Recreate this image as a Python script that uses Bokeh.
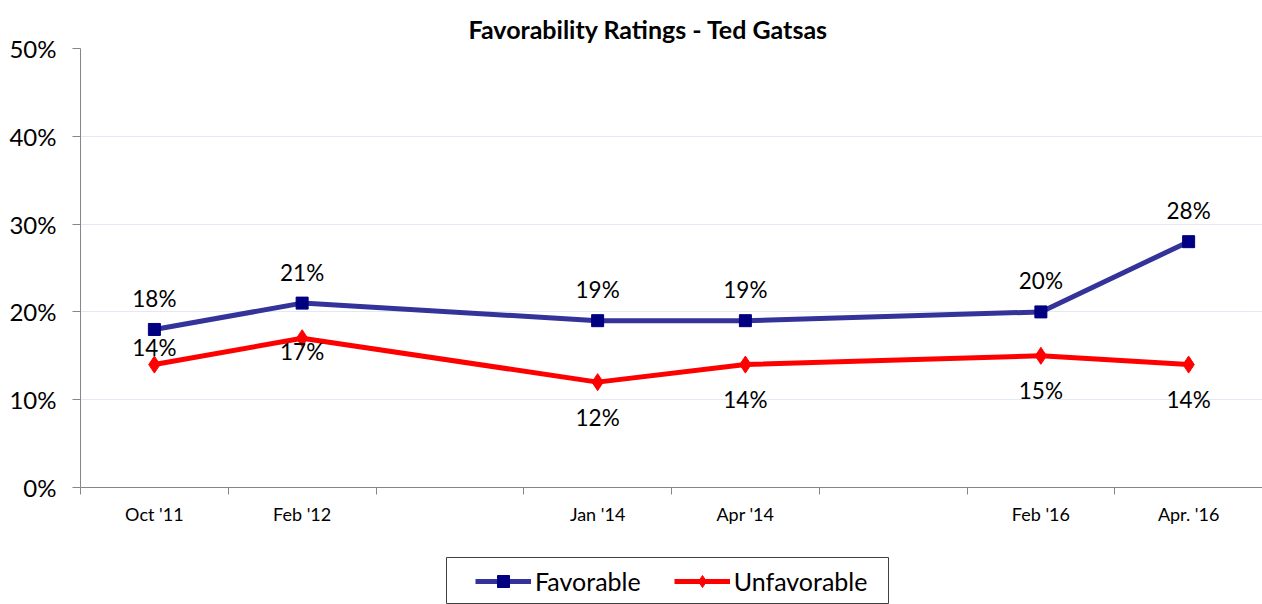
from bokeh.plotting import figure
from bokeh.layouts import column
from bokeh.models import (FixedTicker, Legend, LegendItem, ColumnDataSource,
                          NumeralTickFormatter, Range1d)
from bokeh.core.properties import value
from bokeh.embed import file_html
from bokeh.resources import INLINE

# ---- data ----
categories = ["Oct '11", "Feb '12", "", "Jan '14", "Apr '14", "", "Feb '16", "Apr. '16"]
survey_slots = [0, 1, 3, 4, 6, 7]
favorable = [0.18, 0.21, 0.19, 0.19, 0.20, 0.28]
unfavorable = [0.14, 0.17, 0.12, 0.14, 0.15, 0.14]
y_ticks = [0.0, 0.1, 0.2, 0.3, 0.4, 0.5]

FONT = "Lato"
fav_line = "#333399"
fav_marker = "#000080"
unf_color = "#FF0000"

p = figure(width=1262, height=557, output_backend="svg", toolbar_location=None,
           x_range=Range1d(-0.5, 7.5), y_range=Range1d(0, 0.5),
           min_border_left=80, min_border_right=0, min_border_top=48,
           min_border_bottom=70)
p.frame_align = False
p.outline_line_color = None
p.background_fill_color = "white"
p.border_fill_color = "white"

# title
p.title.text = "Favorability Ratings - Ted Gatsas"
p.title.text_font = FONT
p.title.text_font_style = "bold"
p.title.text_font_size = "25px"
p.title.text_color = "black"
p.title.align = "left"
p.title.offset = 388
p.title.standoff = 10

# x axis: labels at slot centres, tick marks at slot boundaries
centers = list(range(len(categories)))
boundaries = [c - 0.5 for c in centers] + [len(categories) - 0.5]
p.xaxis.ticker = FixedTicker(ticks=centers, minor_ticks=boundaries)
p.xaxis.major_label_overrides = {i: c for i, c in enumerate(categories)}
p.xaxis.major_tick_out = 0
p.xaxis.major_tick_in = 0
p.xaxis.minor_tick_out = 7
p.xaxis.minor_tick_in = 0
p.xaxis.minor_tick_line_color = "#868686"
p.xaxis.axis_line_color = "#868686"
p.xaxis.major_label_text_font = FONT
p.xaxis.major_label_text_font_size = "18px"
p.xaxis.major_label_text_color = "black"
p.xaxis.major_label_standoff = 8
p.xgrid.grid_line_color = None

# y axis
p.yaxis.ticker = FixedTicker(ticks=y_ticks)
p.yaxis.formatter = NumeralTickFormatter(format="0%")
p.yaxis.major_tick_out = 8
p.yaxis.major_tick_in = 0
p.yaxis.minor_tick_line_color = None
p.yaxis.axis_line_color = "#868686"
p.yaxis.major_tick_line_color = "#868686"
p.yaxis.major_label_text_font = FONT
p.yaxis.major_label_text_font_size = "24px"
p.yaxis.major_label_text_color = "black"
p.yaxis.major_label_standoff = 16
p.ygrid.grid_line_color = "#E4E7F4"

src = ColumnDataSource(dict(
    x=survey_slots, fav=favorable, unf=unfavorable,
    fav_lbl=[f"{round(v*100)}%" for v in favorable],
    unf_lbl=[f"{round(v*100)}%" for v in unfavorable],
    unf_dy=[-17, 13, 35, 35, 35, 35],
))


def draw_series(fig):
    a = fig.line("x", "fav", source=src, line_color=fav_line, line_width=5)
    b = fig.scatter("x", "fav", source=src, marker="square", size=12,
                    fill_color=fav_marker, line_color=fav_marker)
    c = fig.line("x", "unf", source=src, line_color=unf_color, line_width=5)
    d = fig.scatter("x", "unf", source=src, marker="diamond", size=17,
                    fill_color=unf_color, line_color=unf_color)
    return a, b, c, d


draw_series(p)

p.text("x", "fav", text="fav_lbl", source=src, y_offset=-31,
       text_align="center", text_baseline="middle",
       text_font=value(FONT), text_font_size="22.5px", text_color="black")
p.text("x", "unf", text="unf_lbl", source=src, y_offset="unf_dy",
       text_align="center", text_baseline="middle",
       text_font=value(FONT), text_font_size="22.5px", text_color="black")

# legend strip below the chart (its frame outline is the legend box)
lg = figure(width=1262, height=47, output_backend="svg", toolbar_location=None,
            x_range=Range1d(-0.5, 7.5), y_range=Range1d(5, 6),
            x_axis_type=None, y_axis_type=None,
            min_border_left=446, min_border_right=374, min_border_top=0,
            min_border_bottom=0)
lg.frame_align = False
lg.xgrid.grid_line_color = None
lg.ygrid.grid_line_color = None
lg.outline_line_color = "#404040"
lg.outline_line_width = 1
l1, m1, l2, m2 = draw_series(lg)

legend = Legend(items=[LegendItem(label="Favorable", renderers=[l1, m1]),
                       LegendItem(label="Unfavorable", renderers=[l2, m2])],
                orientation="horizontal", location="center_left")
legend.label_text_font = FONT
legend.label_text_font_size = "25px"
legend.label_text_color = "black"
legend.glyph_width = 56
legend.glyph_height = 30
legend.label_standoff = 4
legend.spacing = 33
legend.padding = 2
legend.margin = 29
legend.border_line_color = None
legend.background_fill_alpha = 0
lg.add_layout(legend, "center")

layout = column(p, lg, spacing=0)
open("out.html", "w").write(file_html(layout, INLINE))
